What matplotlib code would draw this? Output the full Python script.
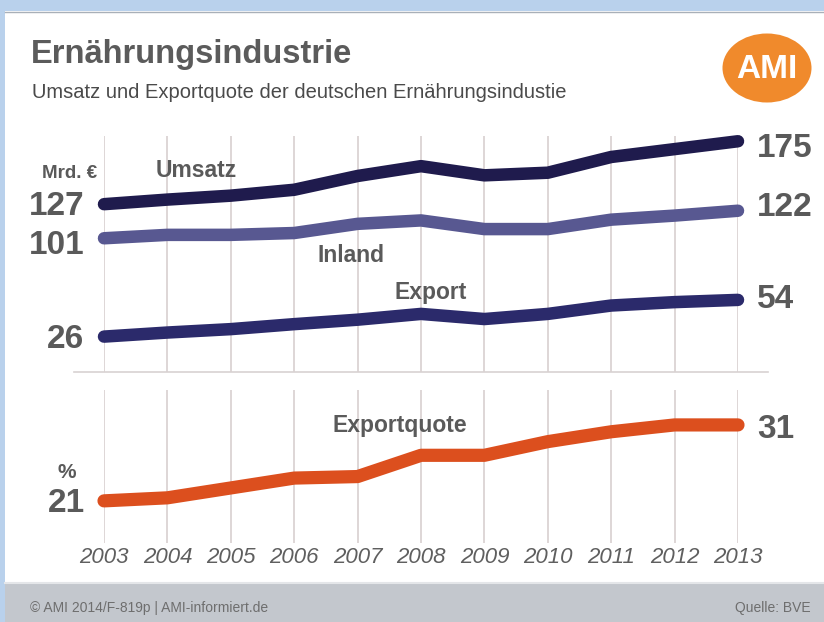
import numpy as np
import matplotlib
matplotlib.use("Agg")
import matplotlib.pyplot as plt
from matplotlib.patches import Rectangle, Ellipse

plt.rcParams['font.family'] = ['Liberation Sans', 'DejaVu Sans']

# Umsatz der Ernaehrungsindustrie in Mrd. Euro, Exportquote in %
years = [2003, 2004, 2005, 2006, 2007, 2008, 2009, 2010, 2011, 2012, 2013]
umsatz = [127, 130.5, 133.5, 138, 148.5, 156, 149, 151, 163, 169, 175]
inland = [101, 103.6, 103.6, 105, 112, 114.6, 108, 108, 115.2, 118.3, 122]
export = [26, 29.1, 31.7, 35.5, 38.9, 43.3, 39.4, 43.3, 49.7, 52.3, 54]
quote = [21, 21.4, 22.7, 24, 24.2, 27, 27, 28.8, 30.1, 31, 31]

W, H = 824, 622
grey = "#5a5a5a"

fig = plt.figure(figsize=(W / 100, H / 100), dpi=100)
fig.patch.set_facecolor("#b9d1ec")

# frame, header and footer drawn in pixel units
bg = fig.add_axes([0, 0, 1, 1])
bg.set_xlim(0, W)
bg.set_ylim(H, 0)
bg.axis("off")
bg.add_patch(Rectangle((5, 11), W - 5, 573, facecolor="white", edgecolor="none"))
bg.plot([5, W], [11.5, 11.5], color="#a9b0b8", lw=1)
bg.add_patch(Rectangle((5, 584), W - 5, 40, facecolor="#c3c7cd", edgecolor="none"))
bg.plot([5, W], [583, 583], color="#e4e6e9", lw=1.5)

bg.text(31, 63, "Ernährungsindustrie", fontsize=23.5, fontweight="bold",
        color="#5b5b5b", va="baseline")
bg.text(32, 98, "Umsatz und Exportquote der deutschen Ernährungsindustie",
        fontsize=14.5, color="#4a4a4a", va="baseline")

bg.add_patch(Ellipse((767, 68), 89, 69, facecolor="#f08a2c", edgecolor="none"))
bg.text(767, 69, "AMI", fontsize=24, fontweight="bold", color="white",
        ha="center", va="center")

bg.text(30, 608, "© AMI 2014/F-819p | AMI-informiert.de", fontsize=10,
        color="#6e6e6e", va="center")
bg.text(811, 608, "Quelle: BVE", fontsize=10, color="#6e6e6e",
        ha="right", va="center")


def px_axes(x0, x1, y0, y1):
    return fig.add_axes([x0 / W, 1 - y1 / H, (x1 - x0) / W, (y1 - y0) / H])


def style(ax):
    ax.set_facecolor("none")
    for s in ax.spines.values():
        s.set_visible(False)
    ax.set_xlim(2003, 2013)
    ax.set_xticks(years)
    ax.grid(axis="x", color="#d8cfcf", lw=1.2)
    ax.set_yticks([])
    ax.tick_params(length=0)
    ax.set_axisbelow(True)


big = dict(fontsize=24, fontweight="bold", color=grey, va="center")
lab = dict(fontsize=16.5, fontweight="bold", color=grey, ha="center", va="center")

# upper panel: Umsatz, Inland, Export
ax = px_axes(104, 738, 136, 372)
style(ax)
ax.set_xticklabels([])
ax.set_ylim(-1, 179)
ax.plot([2002.53, 2013.47], [-1, -1], color="#d8d2d2", lw=1.2, clip_on=False)

for vals, col, dy_l, dy_r in [(umsatz, "#1f1b4d", -2, -5),
                              (inland, "#585891", -5, 2),
                              (export, "#2b2a6b", -2, 0)]:
    ax.plot(years, vals, color=col, lw=9, solid_capstyle="round",
            solid_joinstyle="round", clip_on=False)
    ax.annotate(f"{vals[0]:g}", (years[0], vals[0]), xytext=(-14, dy_l),
                textcoords="offset points", ha="right", **big)
    ax.annotate(f"{vals[-1]:g}", (years[-1], vals[-1]), xytext=(13.5, dy_r),
                textcoords="offset points", ha="left", **big)

ax.text(2004.45, 152.5, "Umsatz", **lab)
ax.text(2002.45, 150.5, "Mrd. €", fontsize=13.5, fontweight="bold", color=grey,
        ha="center", va="center")
ax.text(2006.9, 88, "Inland", **lab)
ax.text(2008.16, 59.5, "Export", **lab)

# lower panel: Exportquote
ax2 = px_axes(104, 738, 390, 543)
style(ax2)
ax2.set_ylim(15.45, 35.6)
ax2.plot(years, quote, color="#dc4f1e", lw=9.5, solid_capstyle="round",
         solid_joinstyle="round", clip_on=False)
ax2.annotate(f"{quote[0]:g}", (years[0], quote[0]), xytext=(-14, -2),
             textcoords="offset points", ha="right", **big)
ax2.annotate(f"{quote[-1]:g}", (years[-1], quote[-1]), xytext=(13.5, -3),
             textcoords="offset points", ha="left", **big)
ax2.text(2007.66, 30.95, "Exportquote", **lab)
ax2.text(2002.42, 24.7, "%", fontsize=15, fontweight="bold", color=grey,
         ha="center", va="center")
ax2.set_xticklabels([str(y) for y in years], fontsize=16, style="italic",
                    color="#5f5f5f")
ax2.tick_params(axis="x", pad=3)

fig.savefig("out.png", dpi=100, facecolor=fig.get_facecolor())
